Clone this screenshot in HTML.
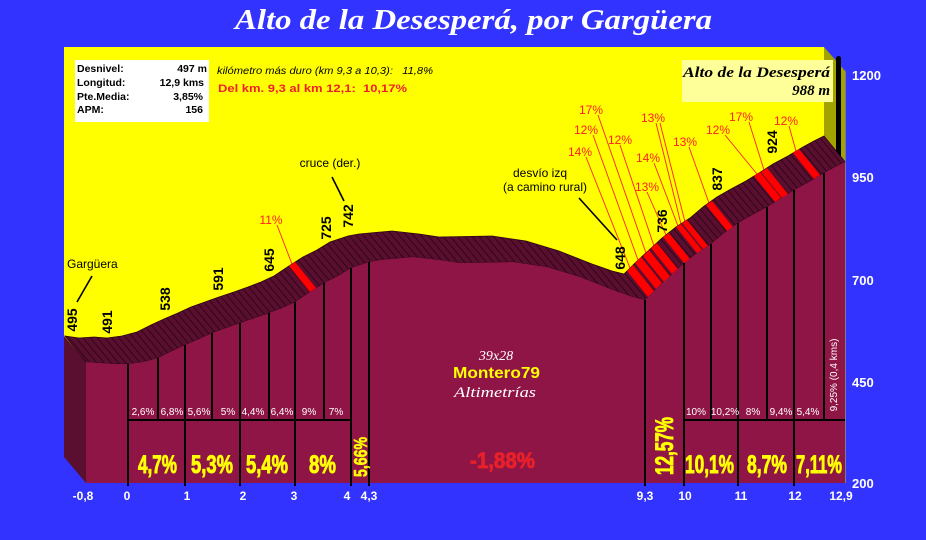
<!DOCTYPE html>
<html><head><meta charset="utf-8"><style>
html,body{margin:0;padding:0;background:#3333ff;}
svg{display:block;}
</style></head><body>
<svg width="926" height="540" viewBox="0 0 926 540" xmlns="http://www.w3.org/2000/svg" font-family="'Liberation Sans', Arial, sans-serif">
<defs>
<pattern id="h" patternUnits="userSpaceOnUse" width="5.5" height="10" patternTransform="rotate(-40)">
<line x1="0.5" y1="0" x2="0.5" y2="10" stroke="#22040f" stroke-width="0.8"/>
</pattern>
</defs>
<rect x="0" y="0" width="926" height="540" fill="#3333ff"/>
<!-- title -->
<text x="235" y="29" font-family="'Liberation Serif', serif" font-weight="bold" font-style="italic" font-size="28" fill="#ffffff" textLength="477" lengthAdjust="spacingAndGlyphs">Alto de la Desesperá, por Gargüera</text>

<!-- back wall -->
<rect x="64" y="47" width="760" height="410" fill="#ffff00"/>
<polygon points="824,47 846,72 846,162 824,136" fill="#a3a300"/>
<line x1="845.5" y1="72" x2="845.5" y2="483" stroke="#7a7a90" stroke-width="1"/>
<rect x="836" y="56" width="5" height="102" rx="2.5" fill="#000"/>

<!-- left side -->
<polygon points="64,336 86,362 86,483 64,457" fill="#5a0f30"/>

<!-- red leader lines -->
<g stroke="#ff2020" stroke-width="0.9" fill="none">
<line x1="277" y1="225" x2="292" y2="264"/>
<line x1="586" y1="157" x2="630" y2="268"/>
<line x1="593" y1="135" x2="638" y2="260"/>
<line x1="598" y1="115" x2="646" y2="253"/>
<line x1="620" y1="145" x2="654" y2="246"/>
<line x1="647" y1="192" x2="666" y2="235"/>
<line x1="654" y1="163" x2="678" y2="226"/>
<line x1="656" y1="123" x2="681" y2="224"/>
<line x1="660" y1="123" x2="685" y2="222"/>
<line x1="689" y1="147" x2="709" y2="203"/>
<line x1="725" y1="135" x2="757" y2="174"/>
<line x1="749" y1="122" x2="764" y2="170"/>
<line x1="789" y1="126" x2="796" y2="151"/>
</g>

<!-- top band -->
<polygon points="86,362 100,363 115,364 128,364 143,362 158,358 172,351 185,345 199,339 212,333 226,328 240,323 255,318 269,313 282,308 295,302 310,292 324,283 338,276 351,268 360,265 369,262 380,260 413,257 440,260 460,263 513,262 547,267 580,277 613,290 633,297 645,300 657,288 670,276 683,264 697,253 711,244 724,233 738,223 752,215 767,207 780,199 794,190 809,182 824,173 835,167 845,162 824,136 814,141 803,147 788,156 773,164 759,173 746,181 731,189 717,197 703,207 690,218 676,227 662,238 649,250 636,262 624,274 612,271 592,264 559,251 526,241 492,236 439,237 419,234 392,231 359,234 348,236 339,239 330,242 317,250 303,257 289,266 274,276 261,282 248,287 234,292 219,297 205,302 191,307 178,313 164,319 151,325 137,332 122,336 107,338 94,337 79,338 65,336" fill="#5a0f30"/>
<polygon points="86,362 100,363 115,364 128,364 143,362 158,358 172,351 185,345 199,339 212,333 226,328 240,323 255,318 269,313 282,308 295,302 310,292 324,283 338,276 351,268 360,265 369,262 380,260 413,257 440,260 460,263 513,262 547,267 580,277 613,290 633,297 645,300 657,288 670,276 683,264 697,253 711,244 724,233 738,223 752,215 767,207 780,199 794,190 809,182 824,173 835,167 845,162 824,136 814,141 803,147 788,156 773,164 759,173 746,181 731,189 717,197 703,207 690,218 676,227 662,238 649,250 636,262 624,274 612,271 592,264 559,251 526,241 492,236 439,237 419,234 392,231 359,234 348,236 339,239 330,242 317,250 303,257 289,266 274,276 261,282 248,287 234,292 219,297 205,302 191,307 178,313 164,319 151,325 137,332 122,336 107,338 94,337 79,338 65,336" fill="url(#h)" stroke="#2a0615" stroke-width="0.8"/>

<!-- red stripes -->
<g fill="#ff0000">
<polygon points="310,292 316,288 295,262 289,266"/>
<polygon points="648,297 654,291 633,265 627,271"/>
<polygon points="656,289 662,283 641,257 635,263"/>
<polygon points="664,282 670,276 649,250 643,256"/>
<polygon points="672,274 678,269 657,243 651,248"/>
<polygon points="684,263 690,259 669,233 663,237"/>
<polygon points="697,253 702,250 681,224 676,227"/>
<polygon points="703,249 708,246 687,220 682,223"/>
<polygon points="727,231 733,227 712,201 706,205"/>
<polygon points="775,202 781,198 760,172 754,176"/>
<polygon points="782,198 788,194 767,168 761,172"/>
<polygon points="814,179 820,175 799,149 793,153"/>
</g>

<!-- front face -->
<polygon points="86,362 100,363 115,364 128,364 143,362 158,358 172,351 185,345 199,339 212,333 226,328 240,323 255,318 269,313 282,308 295,302 310,292 324,283 338,276 351,268 360,265 369,262 380,260 413,257 440,260 460,263 513,262 547,267 580,277 613,290 633,297 645,300 657,288 670,276 683,264 697,253 711,244 724,233 738,223 752,215 767,207 780,199 794,190 809,182 824,173 835,167 845,162 845,483 86,483" fill="#8f1547"/>

<!-- grid lines on front -->
<g stroke="#000" stroke-width="2">
<line x1="128" y1="364" x2="128" y2="486"/>
<line x1="158" y1="358" x2="158" y2="420"/>
<line x1="185" y1="345" x2="185" y2="486"/>
<line x1="212" y1="333" x2="212" y2="420"/>
<line x1="240" y1="323" x2="240" y2="486"/>
<line x1="269" y1="313" x2="269" y2="420"/>
<line x1="295" y1="302" x2="295" y2="486"/>
<line x1="324" y1="283" x2="324" y2="420"/>
<line x1="351" y1="268" x2="351" y2="486"/>
<line x1="369" y1="262" x2="369" y2="486"/>
<line x1="645" y1="300" x2="645" y2="486"/>
<line x1="684" y1="263" x2="684" y2="486"/>
<line x1="711" y1="244" x2="711" y2="420"/>
<line x1="738" y1="223" x2="738" y2="486"/>
<line x1="767" y1="207" x2="767" y2="420"/>
<line x1="794" y1="190" x2="794" y2="486"/>
<line x1="824" y1="173" x2="824" y2="420"/>
<line x1="127" y1="420" x2="352" y2="420"/>
<line x1="683" y1="420" x2="845" y2="420"/>
</g>

<!-- info box -->
<rect x="75" y="60" width="134" height="62" fill="#ffffff"/>
<g font-size="10.5" font-weight="bold" fill="#000">
<text x="77" y="72">Desnivel:</text><text x="207" y="72" text-anchor="end">497 m</text>
<text x="77" y="86">Longitud:</text><text x="204" y="86" text-anchor="end">12,9 kms</text>
<text x="77" y="100">Pte.Media:</text><text x="203" y="100" text-anchor="end">3,85%</text>
<text x="77" y="113">APM:</text><text x="203" y="113" text-anchor="end">156</text>
</g>
<text x="217" y="74" font-size="10.5" font-style="italic" fill="#000" textLength="216" lengthAdjust="spacingAndGlyphs">kilómetro más duro (km 9,3 a 10,3):&#160;&#160; 11,8%</text>
<text x="218" y="92" font-size="11" font-weight="bold" fill="#f0202a" textLength="189" lengthAdjust="spacingAndGlyphs">Del km. 9,3 al km 12,1:&#160; 10,17%</text>

<!-- summit box -->
<rect x="682" y="60" width="151" height="42" fill="#ffff99"/>
<text x="683" y="77" font-family="'Liberation Serif', serif" font-weight="bold" font-style="italic" font-size="15" fill="#000" textLength="147" lengthAdjust="spacingAndGlyphs">Alto de la Desesperá</text>
<text x="830" y="95" text-anchor="end" font-family="'Liberation Serif', serif" font-weight="bold" font-style="italic" font-size="15" fill="#000">988 m</text>

<!-- y axis labels -->
<g font-size="13" font-weight="bold" fill="#ffffff">
<text x="852" y="80">1200</text>
<text x="852" y="182">950</text>
<text x="852" y="285">700</text>
<text x="852" y="387">450</text>
<text x="852" y="488">200</text>
</g>

<!-- x axis labels -->
<g font-size="12" font-weight="bold" fill="#ffffff" text-anchor="middle">
<text x="83" y="500">-0,8</text>
<text x="127" y="500">0</text>
<text x="187" y="500">1</text>
<text x="243" y="500">2</text>
<text x="294" y="500">3</text>
<text x="347" y="500">4</text>
<text x="369" y="500">4,3</text>
<text x="645" y="500">9,3</text>
<text x="685" y="500">10</text>
<text x="741" y="500">11</text>
<text x="795" y="500">12</text>
<text x="841" y="500">12,9</text>
</g>

<!-- black annotations -->
<g font-size="12" fill="#000">
<text x="67" y="268">Gargüera</text>
<text x="330" y="167" text-anchor="middle">cruce (der.)</text>
<text x="540" y="177" text-anchor="middle">desvío izq</text>
<text x="545" y="191" text-anchor="middle">(a camino rural)</text>
</g>
<g stroke="#000" stroke-width="1.6">
<line x1="92" y1="276" x2="77" y2="302"/>
<line x1="332" y1="177" x2="344" y2="201"/>
<line x1="579" y1="198" x2="617" y2="240"/>
</g>

<!-- elevation labels -->
<g font-size="14" font-weight="bold" fill="#000" text-anchor="middle">
<text transform="translate(77,320) rotate(-90)">495</text>
<text transform="translate(112,322) rotate(-90)">491</text>
<text transform="translate(170,299) rotate(-90)">538</text>
<text transform="translate(223,279) rotate(-90)">591</text>
<text transform="translate(274,260) rotate(-90)">645</text>
<text transform="translate(331,228) rotate(-90)">725</text>
<text transform="translate(353,216) rotate(-90)">742</text>
<text transform="translate(625,258) rotate(-90)">648</text>
<text transform="translate(667,221) rotate(-90)">736</text>
<text transform="translate(722,179) rotate(-90)">837</text>
<text transform="translate(777,142) rotate(-90)">924</text>
</g>

<!-- red labels -->
<g font-size="12" fill="#ff2020" text-anchor="middle">
<text x="271" y="224">11%</text>
<text x="591" y="114">17%</text>
<text x="586" y="134">12%</text>
<text x="580" y="156">14%</text>
<text x="620" y="144">12%</text>
<text x="653" y="122">13%</text>
<text x="648" y="162">14%</text>
<text x="647" y="191">13%</text>
<text x="685" y="146">13%</text>
<text x="718" y="134">12%</text>
<text x="741" y="121">17%</text>
<text x="786" y="125">12%</text>
</g>

<!-- half-km gradients -->
<g font-size="10" fill="#ffffff" text-anchor="middle">
<text x="143" y="415">2,6%</text>
<text x="172" y="415">6,8%</text>
<text x="199" y="415">5,6%</text>
<text x="228" y="415">5%</text>
<text x="253" y="415">4,4%</text>
<text x="282" y="415">6,4%</text>
<text x="309" y="415">9%</text>
<text x="336" y="415">7%</text>
<text x="696" y="415">10%</text>
<text x="725" y="415">10,2%</text>
<text x="753" y="415">8%</text>
<text x="781" y="415">9,4%</text>
<text x="808" y="415">5,4%</text>
<text transform="translate(837,375) rotate(-90)">9,25% (0,4 kms)</text>
</g>

<!-- km gradients -->
<g font-size="25" font-weight="bold" fill="#ffff00" stroke="#ffff00" stroke-width="0.9">
<text x="138" y="473" textLength="39" lengthAdjust="spacingAndGlyphs">4,7%</text>
<text x="191" y="473" textLength="42" lengthAdjust="spacingAndGlyphs">5,3%</text>
<text x="246" y="473" textLength="42" lengthAdjust="spacingAndGlyphs">5,4%</text>
<text x="309" y="473" textLength="27" lengthAdjust="spacingAndGlyphs">8%</text>
<text x="685" y="473" textLength="49" lengthAdjust="spacingAndGlyphs">10,1%</text>
<text x="747" y="473" textLength="40" lengthAdjust="spacingAndGlyphs">8,7%</text>
<text x="796" y="473" textLength="46" lengthAdjust="spacingAndGlyphs">7,11%</text>
<text transform="translate(673,446) rotate(-90)" text-anchor="middle" textLength="58" lengthAdjust="spacingAndGlyphs">12,57%</text>
<text transform="translate(367,457) rotate(-90)" text-anchor="middle" font-size="18" stroke-width="0.6" textLength="40" lengthAdjust="spacingAndGlyphs">5,66%</text>
</g>
<text x="470" y="468" font-size="22" font-weight="bold" fill="#e8202a" stroke="#e8202a" stroke-width="0.8" textLength="65" lengthAdjust="spacingAndGlyphs">-1,88%</text>

<!-- watermark -->
<text x="496" y="360" text-anchor="middle" font-family="'Liberation Serif', serif" font-style="italic" font-size="14" fill="#ffffff">39x28</text>
<text x="453" y="378" font-size="16" font-weight="bold" fill="#ffff00" textLength="87" lengthAdjust="spacingAndGlyphs">Montero79</text>
<text x="454" y="397" font-family="'Liberation Serif', serif" font-style="italic" font-size="15" fill="#ffffff" textLength="82" lengthAdjust="spacingAndGlyphs">Altimetrías</text>
</svg>
</body></html>
